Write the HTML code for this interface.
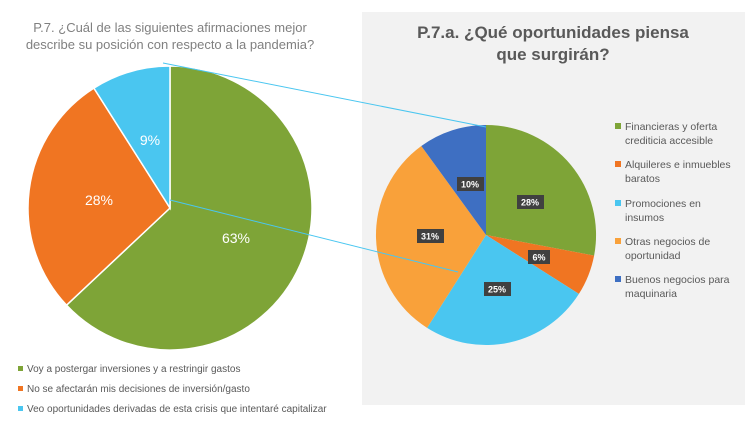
<!DOCTYPE html>
<html><head><meta charset="utf-8"><style>
body{margin:0;width:755px;height:424px;background:#fff;overflow:hidden;font-family:"Liberation Sans",sans-serif}
</style></head><body>
<svg width="755" height="424" viewBox="0 0 755 424" xmlns="http://www.w3.org/2000/svg" font-family="Liberation Sans, sans-serif">
<rect x="362" y="12" width="383" height="393" fill="#f2f2f2"/>
<text x="553" y="38" text-anchor="middle" font-size="17" font-weight="bold" fill="#595959">P.7.a. ¿Qué oportunidades piensa</text>
<text x="553" y="60" text-anchor="middle" font-size="17" font-weight="bold" fill="#595959">que surgirán?</text>
<text x="170" y="32" text-anchor="middle" font-size="13" fill="#808080">P.7. ¿Cuál de las siguientes afirmaciones mejor</text>
<text x="170" y="49" text-anchor="middle" font-size="13" fill="#808080">describe su posición con respecto a la pandemia?</text>
<!-- left pie -->
<g stroke="#fff" stroke-width="1.5">
<path d="M170,208 L170,66 A142,142 0 1 1 66.5,305.2 Z" fill="#7ea437"/>
<path d="M170,208 L66.5,305.2 A142,142 0 0 1 93.9,88.1 Z" fill="#f07522"/>
<path d="M170,208 L93.9,88.1 A142,142 0 0 1 170,66 Z" fill="#4ac6f0"/>
</g>
<g font-size="14" fill="#fff" text-anchor="middle">
<text x="236" y="243">63%</text><text x="99" y="205">28%</text><text x="150" y="145">9%</text>
</g>
<!-- right pie -->
<path d="M486,235 L486,125 A110,110 0 0 1 594.1,255.6 Z" fill="#7ea437"/>
<path d="M486,235 L594.1,255.6 A110,110 0 0 1 578.9,293.9 Z" fill="#f07522"/>
<path d="M486,235 L578.9,293.9 A110,110 0 0 1 427.1,327.9 Z" fill="#4ac6f0"/>
<path d="M486,235 L427.1,327.9 A110,110 0 0 1 421.3,146 Z" fill="#f9a13a"/>
<path d="M486,235 L421.3,146 A110,110 0 0 1 486,125 Z" fill="#3e6fc2"/>
<line x1="163" y1="63" x2="486" y2="127" stroke="#4ac6f0" stroke-width="1"/>
<line x1="170" y1="200" x2="458" y2="272" stroke="#4ac6f0" stroke-width="1"/>
<g font-size="9" font-weight="bold" fill="#fff" text-anchor="middle">
<rect x="517" y="195" width="27" height="14" fill="#404040"/><text x="530" y="205.5">28%</text>
<rect x="528" y="250" width="22" height="14" fill="#404040"/><text x="539" y="260.5">6%</text>
<rect x="484" y="282" width="27" height="14" fill="#404040"/><text x="497" y="292.5">25%</text>
<rect x="417" y="229" width="27" height="14" fill="#404040"/><text x="430" y="239.5">31%</text>
<rect x="457" y="177" width="27" height="14" fill="#404040"/><text x="470" y="187.5">10%</text>
</g>
<g font-size="10.5" fill="#595959">
<rect x="615" y="123" width="6" height="6" fill="#7ea437"/><text x="625" y="130">Financieras y oferta</text><text x="625" y="144">crediticia accesible</text>
<rect x="615" y="161" width="6" height="6" fill="#f07522"/><text x="625" y="168">Alquileres e inmuebles</text><text x="625" y="182">baratos</text>
<rect x="615" y="200" width="6" height="6" fill="#4ac6f0"/><text x="625" y="207">Promociones en</text><text x="625" y="221">insumos</text>
<rect x="615" y="238" width="6" height="6" fill="#f9a13a"/><text x="625" y="245">Otras negocios de</text><text x="625" y="259">oportunidad</text>
<rect x="615" y="276" width="6" height="6" fill="#3e6fc2"/><text x="625" y="283">Buenos negocios para</text><text x="625" y="297">maquinaria</text>
</g>
<g font-size="10" fill="#595959">
<rect x="18" y="366" width="5" height="5" fill="#7ea437"/><text x="27" y="372">Voy a postergar inversiones y a restringir gastos</text>
<rect x="18" y="386" width="5" height="5" fill="#f07522"/><text x="27" y="392">No se afectarán mis decisiones de inversión/gasto</text>
<rect x="18" y="406" width="5" height="5" fill="#4ac6f0"/><text x="27" y="412">Veo oportunidades derivadas de esta crisis que intentaré capitalizar</text>
</g>
</svg>
</body></html>
